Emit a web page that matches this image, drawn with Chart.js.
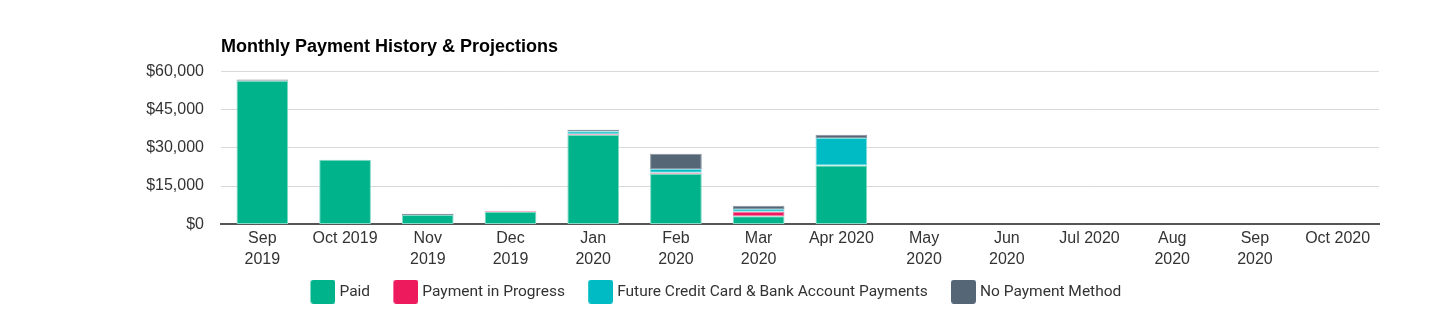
<!DOCTYPE html>
<html>
<head>
<meta charset="utf-8">
<title>Monthly Payment History &amp; Projections</title>
<script src="https://cdn.jsdelivr.net/npm/chart.js@4/dist/chart.umd.min.js"></script>
<style>
  html, body { margin: 0; padding: 0; background: #fff; }
  #wrap { width: 1453px; height: 326px; }
</style>
</head>
<body>
<div id="wrap"><canvas id="paymentChart"></canvas></div>
<script>
// months on the x axis (arrays wrap onto two lines)
const months = [
    ['Sep', '2019'], 'Oct 2019', ['Nov', '2019'], ['Dec', '2019'],
    ['Jan', '2020'], ['Feb', '2020'], ['Mar', '2020'], 'Apr 2020',
    ['May', '2020'], ['Jun', '2020'], 'Jul 2020', ['Aug', '2020'],
    ['Sep', '2020'], 'Oct 2020'
];

const paid             = [56200, 25300, 3700, 5000, 35000, 19800, 3200, 23100, 0, 0, 0, 0, 0, 0];
const inProgress       = [0, 0, 0, 300, 300, 400, 1800, 0, 0, 0, 0, 0, 0, 0];
const futurePayments   = [0, 0, 0, 0, 1200, 1500, 1000, 10700, 0, 0, 0, 0, 0, 0];
const noPaymentMethod  = [500, 0, 500, 0, 500, 6000, 1300, 1300, 0, 0, 0, 0, 0, 0];

const yTicks = [0, 15000, 30000, 45000, 60000];

const fills   = ['#00b38a', '#ee1a5e', '#00bbc3', '#556677'];
const strokes = ['#7fd9c4', '#f27aa0', '#7fdde1', '#8894a1'];

// legend swatch: rounded square sitting on the right of a wider transparent canvas,
// so the gap between swatch and text is tighter than Chart.js' default
const SWATCH_W = 42, SWATCH_SLOT = 34.5;
function makeSwatch(color) {
    const c = document.createElement('canvas');
    c.width = SWATCH_W;
    c.height = 24;
    const g = c.getContext('2d');
    g.fillStyle = color;
    g.beginPath();
    g.roundRect(SWATCH_W - 25, 0, 25, 24, 3);
    g.fill();
    return c;
}
const swatches = fills.map(makeSwatch);

function makeSet(label, data, i) {
    return {
        label: label,
        data: data,
        backgroundColor: fills[i],
        borderColor: strokes[i],
        borderWidth: 1,
        borderSkipped: false,
        categoryPercentage: 0.625,
        barPercentage: 1
    };
}

document.addEventListener('DOMContentLoaded', () => {
    const ctx = document.getElementById('paymentChart');

    new Chart(ctx, {
        type: 'bar',
        data: {
            labels: months,
            datasets: [
                makeSet('Paid', paid, 0),
                makeSet('Payment in Progress', inProgress, 1),
                makeSet('Future Credit Card & Bank Account Payments', futurePayments, 2),
                makeSet('No Payment Method', noPaymentMethod, 3)
            ]
        },
        options: {
            responsive: true,
            maintainAspectRatio: false,
            animation: false,
            layout: { padding: { left: 39.5, right: 74, top: 36.5, bottom: 16.5 } },
            scales: {
                x: {
                    stacked: true,
                    grid: { display: false, drawTicks: false },
                    border: { display: true, color: '#555', width: 2 },
                    ticks: {
                        color: '#333',
                        font: { family: 'Liberation Sans, Arial', size: 16, lineHeight: 1.3 },
                        maxRotation: 0,
                        autoSkip: false,
                        padding: 4
                    }
                },
                y: {
                    stacked: true,
                    min: 0,
                    max: 60000,
                    afterBuildTicks: (axis) => {
                        axis.ticks = yTicks.map(v => ({ value: v }));
                    },
                    afterFit: (axis) => { axis.width = 181.5; },
                    grid: { color: '#d9d9d9', lineWidth: 1, drawTicks: false },
                    border: { display: false },
                    ticks: {
                        color: '#333',
                        font: { family: 'Liberation Sans, Arial', size: 16 },
                        padding: 17,
                        callback: (v) => '$' + v.toLocaleString('en-US')
                    }
                }
            },
            plugins: {
                title: {
                    display: true,
                    text: 'Monthly Payment History & Projections',
                    align: 'start',
                    fullSize: false,
                    color: '#000',
                    font: { family: 'Liberation Sans, Arial', size: 18, weight: 'bold' },
                    padding: { top: 0, bottom: 13 }
                },
                legend: {
                    position: 'bottom',
                    labels: {
                        color: '#333',
                        font: { family: 'Roboto', size: 15.5 },
                        usePointStyle: true,
                        pointStyleWidth: SWATCH_SLOT,
                        padding: 10,
                        generateLabels: (chart) =>
                            Chart.defaults.plugins.legend.labels.generateLabels(chart)
                                .map((item, i) => ({ ...item, pointStyle: swatches[i] }))
                    }
                },
                tooltip: { enabled: false }
            }
        }
    });
});
</script>
</body>
</html>
